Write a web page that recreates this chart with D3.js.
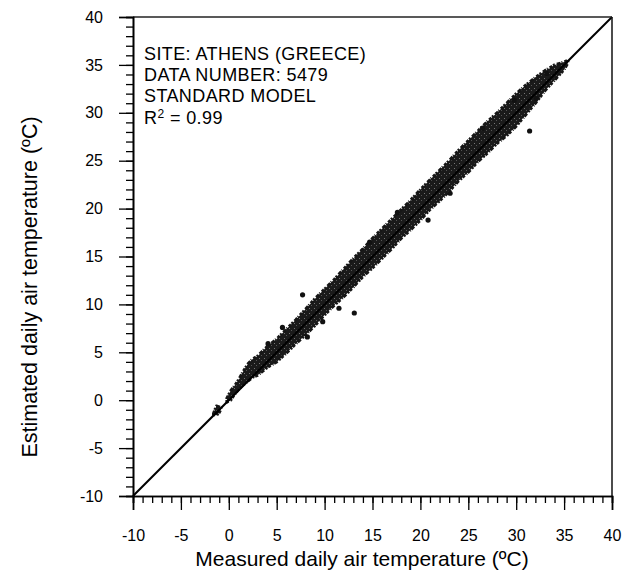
<!DOCTYPE html>
<html>
<head>
<meta charset="utf-8">
<script src="https://cdn.jsdelivr.net/npm/d3@7"></script>
<style>
  body { margin: 0; background: #fff; }
  svg { display: block; font-family: "Liberation Sans", Arial, sans-serif; }
</style>
</head>
<body>
<svg id="viz" width="628" height="575"></svg>
<script>
// Estimated vs measured daily air temperature, Athens

var svg = d3.select("#viz");
var width = +svg.attr("width");
var height = +svg.attr("height");

// axis domain and ticks
const domain = [-10, 40];
const majorTicks = [-10, -5, 0, 5, 10, 15, 20, 25, 30, 35, 40];
const minorTicks = d3.range(-10, 41, 1);

const bandMeasured = [-1.6, -1.3, -1.0, -0.8, -0.5, -0.2, 0.2, 0.6, 1.0, 1.5, 2.0, 2.5, 3.0, 4.0, 5.0, 6.0, 7.0, 8.0, 9.0, 10.0, 11.0, 12.0, 13.0, 14.0, 15.0, 16.0, 17.0, 18.0, 19.0, 20.0, 21.0, 22.0, 23.0, 24.0, 25.0, 26.0, 27.0, 28.0, 29.0, 30.0, 31.0, 32.0, 33.0, 34.0, 35.0, 35.4];
const bandLow = [-1.5, -1.6, -1.3, -0.9, null, -0.2, 0.0, 0.6, 1.1, 1.6, 2.0, 2.4, 2.6, 3.4, 4.0, 4.9, 5.9, 6.8, 7.8, 8.9, 9.9, 10.8, 11.8, 12.9, 13.8, 14.8, 15.8, 16.9, 17.8, 18.8, 19.9, 20.8, 21.8, 22.9, 23.8, 24.9, 25.8, 26.8, 27.6, 28.6, 29.8, 31.0, 32.3, 33.4, 34.5, 35.2];
const bandHigh = [-1.4, -0.6, -0.7, -0.8, null, 0.2, 1.0, 1.5, 2.1, 3.0, 3.8, 4.3, 4.6, 5.6, 6.4, 7.4, 8.4, 9.5, 10.6, 11.6, 12.6, 13.7, 14.8, 15.8, 16.9, 17.9, 18.9, 19.9, 20.9, 22.0, 23.0, 24.0, 25.0, 26.1, 27.1, 28.1, 29.1, 30.0, 31.0, 32.0, 32.9, 33.7, 34.4, 35.0, 35.3, 35.5];

// scattered points outside the dense cloud
const outlierMeasured = [7.7, 11.5, 13.1, 8.2, 14.7, 20.8, 31.4, 32.1, 23.1, 4.1, 5.6, 9.8, 17.6, 26.5, 29.8, 33.2];
const outlierEstimated = [11.0, 9.6, 9.1, 6.6, 16.5, 18.8, 28.1, 31.5, 21.6, 5.9, 7.6, 8.2, 19.6, 28.4, 31.3, 34.1];

// legend text
const infoLines = ["SITE: ATHENS (GREECE)", "DATA NUMBER: 5479", "STANDARD MODEL"];
const r2Value = "0.99";

var margin = { top: 17, right: 16, bottom: 79, left: 133 };
var plotW = width - margin.left - margin.right;
var plotH = height - margin.top - margin.bottom;

var x = d3.scaleLinear().domain(domain).range([0, plotW]);
var y = d3.scaleLinear().domain(domain).range([plotH, 0]);

// speckled fill for the dense cloud
var defs = svg.append("defs");
var pat = defs.append("pattern")
    .attr("id", "speckle")
    .attr("width", 5).attr("height", 5)
    .attr("patternUnits", "userSpaceOnUse");
pat.append("rect").attr("width", 5).attr("height", 5).attr("fill", "#1a1a1a");
pat.append("rect").attr("x", 1).attr("y", 1).attr("width", 1).attr("height", 1).attr("fill", "#777");
pat.append("rect").attr("x", 3).attr("y", 3).attr("width", 1).attr("height", 1).attr("fill", "#555");

var g = svg.append("g")
    .attr("transform", `translate(${margin.left},${margin.top})`);

// cloud of points
var band = bandMeasured.map((m, i) => ({ m: m, lo: bandLow[i], hi: bandHigh[i] }));
var area = d3.area()
    .defined(d => d.lo !== null)
    .x(d => x(d.m))
    .y0(d => y(d.lo))
    .y1(d => y(d.hi))
    .curve(d3.curveLinear);

g.append("path")
    .datum(band)
    .attr("d", area)
    .attr("fill", "url(#speckle)")
    .attr("stroke", "#161616")
    .attr("stroke-width", 3)
    .attr("stroke-dasharray", "3,1,2,2,4,1,1,2")
    .attr("stroke-linejoin", "round");

g.append("g")
    .selectAll("circle")
    .data(outlierMeasured)
    .enter()
    .append("circle")
    .attr("cx", d => x(d))
    .attr("cy", (d, i) => y(outlierEstimated[i]))
    .attr("r", 2.6)
    .attr("fill", "#111");

// 1:1 line
g.append("line")
    .attr("x1", x(domain[0])).attr("y1", y(domain[0]))
    .attr("x2", x(domain[1])).attr("y2", y(domain[1]))
    .attr("stroke", "#000")
    .attr("stroke-width", 2);

// frame: top and right
g.append("line")
    .attr("x1", 0).attr("y1", 0).attr("x2", plotW).attr("y2", 0)
    .attr("stroke", "#222").attr("stroke-width", 1.5);
g.append("line")
    .attr("x1", plotW).attr("y1", 0).attr("x2", plotW).attr("y2", plotH)
    .attr("stroke", "#111").attr("stroke-width", 1.5);

// axes: minor ticks then labelled major ticks
function styleAxis(sel) {
    sel.select(".domain").attr("stroke", "#000").attr("stroke-width", 1.6);
    sel.selectAll(".tick line").attr("stroke", "#000").attr("stroke-width", 1.3);
    sel.selectAll(".tick text")
        .attr("fill", "#000")
        .style("font-size", "16px")
        .style("font-family", "'Liberation Sans', Arial, sans-serif");
}

g.append("g")
    .attr("transform", `translate(0,${plotH})`)
    .call(d3.axisBottom(x).tickValues(minorTicks).tickSize(7).tickFormat(""))
    .call(styleAxis);
g.append("g")
    .attr("transform", `translate(0,${plotH})`)
    .call(d3.axisBottom(x).tickValues(majorTicks).tickSize(14).tickPadding(20).tickFormat(d => String(d)))
    .call(styleAxis);

g.append("g")
    .call(d3.axisLeft(y).tickValues(minorTicks).tickSize(7).tickFormat(""))
    .call(styleAxis);
g.append("g")
    .call(d3.axisLeft(y).tickValues(majorTicks).tickSize(14).tickPadding(16).tickFormat(d => String(d)))
    .call(styleAxis);

// info block
var info = g.append("g")
    .attr("transform", "translate(11,43)")
    .style("font-size", "18px")
    .style("letter-spacing", "0.4px")
    .attr("fill", "#000");
infoLines.forEach((t, i) => {
    info.append("text").attr("x", 0).attr("y", i * 21).text(t);
});
var r2 = info.append("text").attr("x", 0).attr("y", 3 * 21 + 1);
r2.append("tspan").text("R");
r2.append("tspan").attr("dy", -6).style("font-size", "12px").text("2");
r2.append("tspan").attr("dy", 6).text(" = " + r2Value);

// axis titles
svg.append("text")
    .attr("x", 362)
    .attr("y", 566)
    .attr("text-anchor", "middle")
    .style("font-size", "21px")
    .text("Measured daily air temperature (ºC)");

svg.append("text")
    .attr("transform", "translate(37,287) rotate(-90)")
    .attr("text-anchor", "middle")
    .style("font-size", "21.5px")
    .text("Estimated daily air temperature (ºC)");
</script>
</body>
</html>
